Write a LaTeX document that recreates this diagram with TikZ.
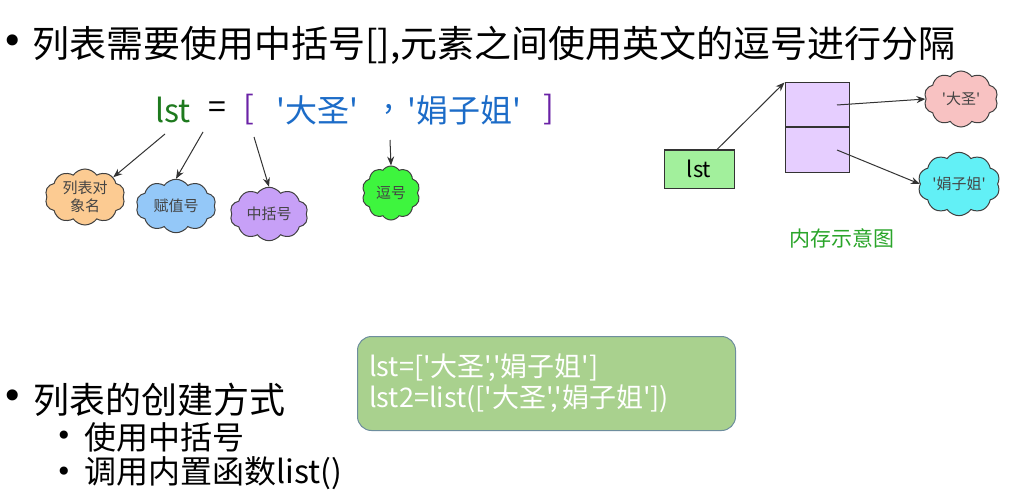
\documentclass[tikz,border=0pt]{standalone}
\usepackage{fontspec}
\newfontfamily\cjk{Noto Sans CJK SC}
\newfontfamily\dv{DejaVu Sans}
\usetikzlibrary{shapes.symbols,arrows.meta,positioning}
\definecolor{lstgreen}{HTML}{1E7A1E}
\definecolor{brpurple}{HTML}{6A22A6}
\definecolor{strblue}{HTML}{1C6CC8}
\definecolor{cOrange}{HTML}{FCCB92}
\definecolor{cBlue}{HTML}{94C8F8}
\definecolor{cPurple}{HTML}{C7A0F7}
\definecolor{cGreen}{HTML}{3EF53E}
\definecolor{cPink}{HTML}{F8C2C2}
\definecolor{cCyan}{HTML}{62F0F6}
\definecolor{boxGreen}{HTML}{A2F09C}
\definecolor{cellPurple}{HTML}{E6CEFF}
\definecolor{memGreen}{HTML}{2AA52A}
\definecolor{codeFill}{HTML}{A9D18E}
\definecolor{codeLine}{HTML}{6E8E9E}
\definecolor{txtgray}{HTML}{444444}
\tikzset{
  every node/.append style={font=\cjk},
  cloudnode/.style={cloud, cloud puffs=10, cloud puff arc=110, aspect=1.4, draw=black!75, line width=1pt, inner sep=0pt, font=\cjk\fontsize{15}{18}\selectfont, text=txtgray, align=center},
  arr/.style={-{Stealth[length=9pt,width=7pt]}, draw=black!80, line width=1pt},
  big/.style={font=\cjk\fontsize{37}{44}\selectfont, anchor=west, inner sep=0pt},
  dot/.style={font=\dv\fontsize{38}{44}\selectfont, anchor=center, inner sep=0pt},
  subdot/.style={font=\dv\fontsize{28}{32}\selectfont, anchor=center, inner sep=0pt},
  code/.style={font=\cjk\fontsize{32}{38}\selectfont, inner sep=0pt},
  cell/.style={draw=black!80, fill=cellPurple, line width=1pt, minimum width=64pt, minimum height=44pt, inner sep=0pt}
}
\begin{document}
\begin{tikzpicture}[x=1pt,y=-1pt]
\useasboundingbox (0,0) rectangle (1017,500);
\fill[white] (0,0) rectangle (1017,500);
% title
\node[dot] (b1) at (13,45) {•};
\node[big] (title) at (32,45) {列表需要使用中括号[],元素之间使用英文的逗号进行分隔};
% lst = [ ... ]
\node[code, text=lstgreen] (lst) at (173,110) {lst};
\node[code] (eq) at (217,110) {=};
\node[code, text=brpurple] (lb) at (249,110) {[};
\node[code, text=strblue] (s1) at (317,110) {'大圣'};
\node[code, text=strblue] (cm) at (389,110) {,};
\node[code, text=strblue] (s2) at (464,110) {'娟子姐'};
\node[code, text=brpurple] (rb) at (549,110) {]};
% clouds
\node[cloudnode, fill=cOrange, minimum width=80pt, minimum height=56pt] (c1) at (85,197) {列表对\\象名};
\node[cloudnode, fill=cBlue, minimum width=80pt, minimum height=52pt] (c2) at (176,206) {赋值号};
\node[cloudnode, fill=cPurple, minimum width=78pt, minimum height=52pt] (c3) at (269,214) {中括号};
\node[cloudnode, fill=cGreen, minimum width=58pt, minimum height=54pt, aspect=1.1] (c4) at (391,193) {逗号};
\coordinate (a1s) at (165,134);
\coordinate (a2s) at (203,132);
\coordinate (a3s) at (254,137);
\coordinate (a4s) at (390,140);
\draw[arr] (a1s) -- (c1.north east);
\draw[arr] (a2s) -- (c2.north);
\draw[arr] (a3s) -- (c3.north);
\draw[arr] (a4s) -- (c4.north);
% memory diagram
\node[draw=black!80, fill=boxGreen, line width=1pt, minimum width=70pt, minimum height=38pt, inner sep=0pt, font=\cjk\fontsize{22}{26}\selectfont] (mlst) at (699,169) {lst};
\node[cell] (cA) at (817,105) {};
\node[cell, below=0pt of cA] (cB) {};
\node[cloudnode, fill=cPink, minimum width=74pt, minimum height=56pt, aspect=1.3] (k1) at (961,99) {'大圣'};
\node[cloudnode, fill=cCyan, minimum width=82pt, minimum height=56pt] (k2) at (959,184) {'娟子姐'};
\coordinate (pA) at ([xshift=20pt]cA.center);
\coordinate (pB) at ([xshift=20pt]cB.center);
\draw[arr] ([xshift=18pt]mlst.north) -- (cA.north west);
\draw[arr] (pA) -- (k1.west);
\draw[arr] (pB) -- (k2.west);
\node[font=\cjk\fontsize{21}{25}\selectfont, text=memGreen, inner sep=0pt] (memlbl) at (842,238) {内存示意图};
% code box
\node[draw=codeLine, fill=codeFill, line width=1pt, rounded corners=14pt, minimum width=378pt, minimum height=94pt, anchor=north west, inner sep=0pt] (codebox) at (357,336) {};
\node[anchor=west, inner sep=0pt, text=white, font=\cjk\fontsize{27}{31}\selectfont, align=left] (codetxt) at (369,383) {lst=['大圣','娟子姐']\\lst2=list(['大圣','娟子姐'])};
% bottom bullets
\node[dot] (b2) at (13,400) {•};
\node[big, font=\cjk\fontsize{36}{42}\selectfont] (h2) at (33,400) {列表的创建方式};
\node[subdot] (b3) at (64,438) {•};
\node[big, font=\cjk\fontsize{32}{38}\selectfont] (i1) at (84,437) {使用中括号};
\node[subdot] (b4) at (64,474) {•};
\node[big, font=\cjk\fontsize{32}{38}\selectfont] (i2) at (84,473) {调用内置函数list()};
\end{tikzpicture}
\end{document}
